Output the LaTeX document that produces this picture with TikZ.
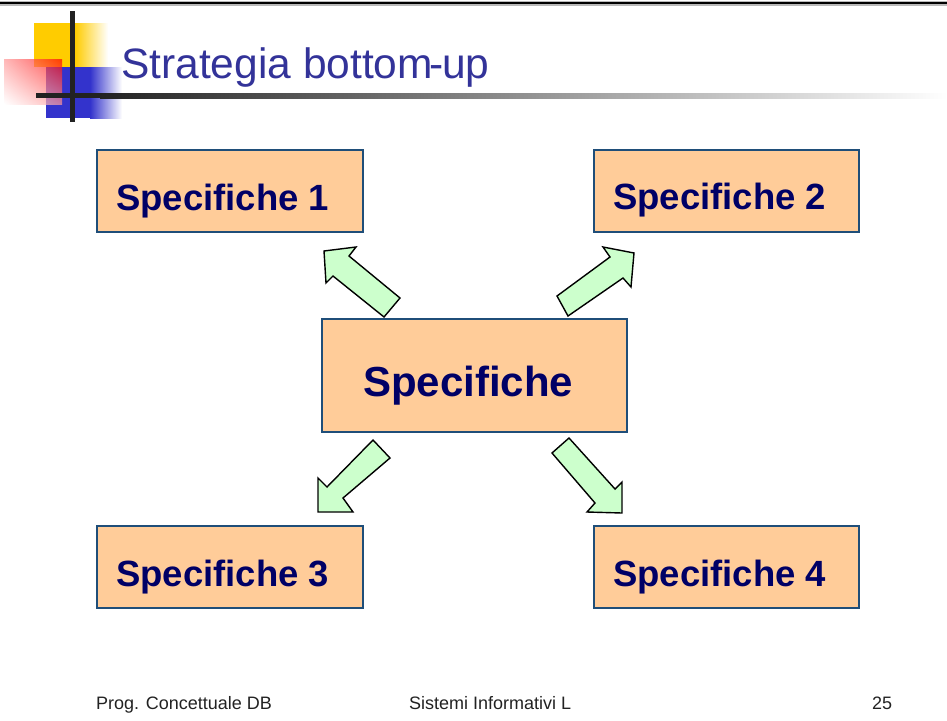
\documentclass[tikz,border=0pt]{standalone}
\usepackage{fontspec}
\setmainfont{Liberation Sans}
\usetikzlibrary{shadings}
\definecolor{boxfill}{HTML}{FFCC99}
\definecolor{boxline}{HTML}{1F4E79}
\definecolor{navytext}{HTML}{000066}
\definecolor{titleblue}{HTML}{333399}
\definecolor{arrowfill}{HTML}{CCFFCC}
\definecolor{logoyellow}{HTML}{FFCC00}
\definecolor{logoblue}{HTML}{3333CC}
\definecolor{logodark}{HTML}{222222}
\begin{document}
\begin{tikzpicture}[x=1pt,y=-1pt,
  specbox/.style={draw=boxline,line width=1.5pt,fill=boxfill,inner sep=0pt},
  boxtext/.style={anchor=base west,inner sep=0pt,text=navytext,font=\fontsize{36.5}{40}\selectfont\bfseries},
  bigtext/.style={anchor=base west,inner sep=0pt,text=navytext,font=\fontsize{42}{46}\selectfont\bfseries},
  blockarrow/.style={draw=black,line width=1.4pt,fill=arrowfill,line join=miter},
  foot/.style={anchor=base west,inner sep=0pt,text=logodark,font=\fontsize{18}{20}\selectfont}]
\useasboundingbox (0,0) rectangle (947,720);
% top rule
\fill[gray!55] (0,0.5) rectangle (947,6);
\fill[black] (0,2) rectangle (947,4.2);
% logo
\fill[logoyellow] (34,23) rectangle (75,67);
\shade[left color=logoyellow,right color=white] (75,23) rectangle (108,67);
\fill[logoblue] (46,67) rectangle (90,118);
\shade[left color=logoblue,right color=white] (90,67) rectangle (122,118);
\shade[fill opacity=0.7,upper right=red,lower left=white,upper left=red!40!white,lower right=red!40!white] (4,59) rectangle (62,104);
\fill[logodark] (36,93) rectangle (100,98);
\shade[left color=logodark,right color=white] (100,93) rectangle (947,98);
\fill[logodark] (70,11) rectangle (75,122);
% title
\node[anchor=base west,inner sep=0pt,text=titleblue,font=\fontsize{42.5}{46}\selectfont] (title) at (121,78) {Strategia bottom\kern-4pt-\kern-1pt up};
% boxes
\node[specbox,minimum width=266,minimum height=82] (s1) at (230,191) {};
\node[specbox,minimum width=265,minimum height=82] (s2) at (726.5,191) {};
\node[specbox,minimum width=305,minimum height=113] (sc) at (474.5,375.5) {};
\node[specbox,minimum width=266,minimum height=82] (s3) at (230,567) {};
\node[specbox,minimum width=265,minimum height=82] (s4) at (726.5,567) {};
\node[boxtext] (t1) at (116,210) {Specifiche 1};
\node[boxtext] (t2) at (613,209) {Specifiche 2};
\node[bigtext] (tc) at (363,396) {Specifiche};
\node[boxtext] (t3) at (116,586) {Specifiche 3};
\node[boxtext] (t4) at (613,586) {Specifiche 4};
% block arrows
\draw[blockarrow] (384,317) -- (333,276) -- (326,283) -- (324,251) -- (356,247) -- (349,256) -- (400,298) -- cycle;
\draw[blockarrow] (557,296) -- (610,257) -- (603,247) -- (634,253) -- (631,287) -- (623,278) -- (568,316) -- cycle;
\draw[blockarrow] (373,440) -- (327,487) -- (318,478) -- (318,512) -- (353,512) -- (343,498) -- (390,458) -- cycle;
\draw[blockarrow] (552,453) -- (595,503) -- (587,512) -- (622,513) -- (622,482) -- (615,489) -- (569,438) -- cycle;
% footer
\node[foot] (f1) at (96,709) {Prog. Concettuale DB};
\node[foot] (f2) at (409,709) {Sistemi Informativi L};
\node[foot] (f3) at (872,709) {25};
\end{tikzpicture}
\end{document}
